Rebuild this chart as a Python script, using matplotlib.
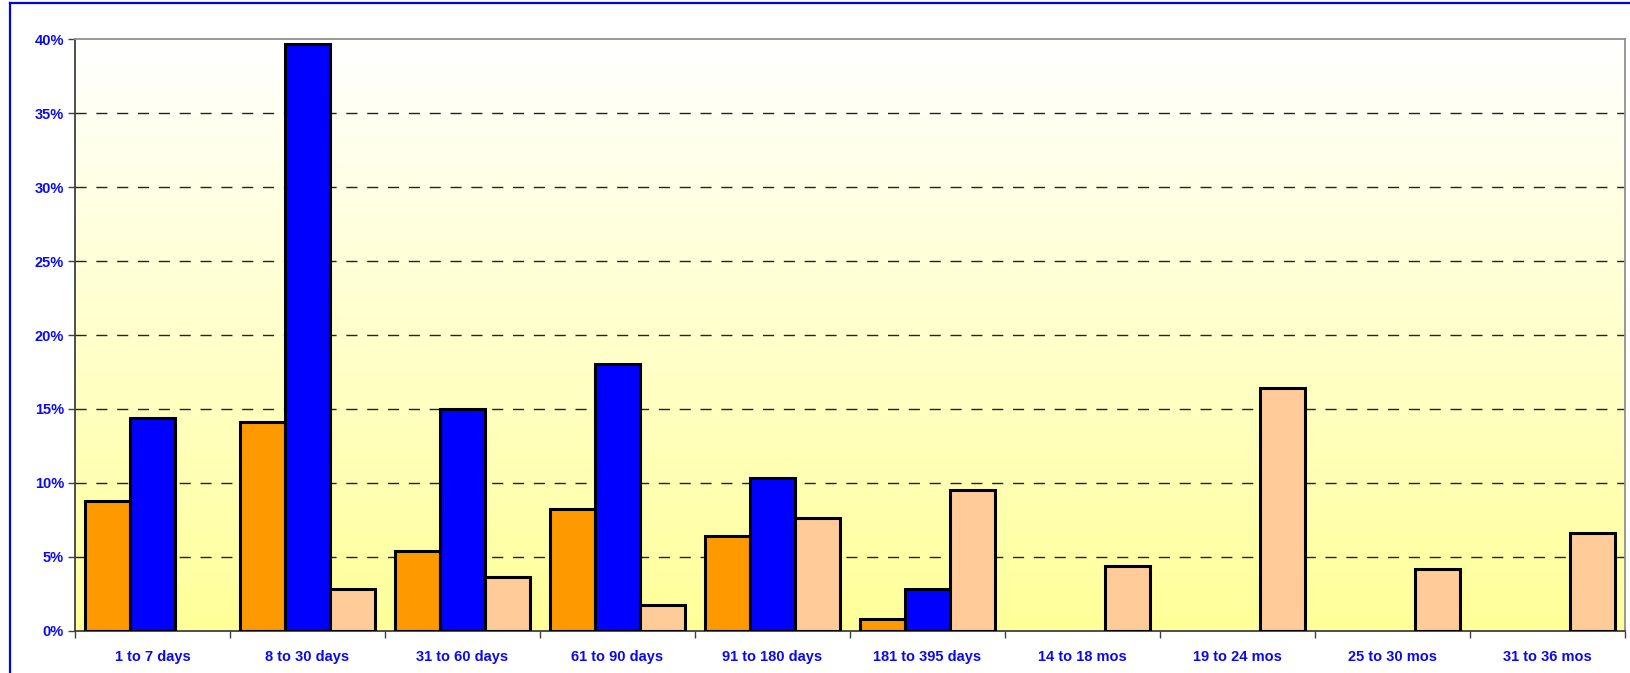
import numpy as np
import matplotlib.pyplot as plt
from matplotlib.lines import Line2D

categories = ['1 to 7 days', '8 to 30 days', '31 to 60 days', '61 to 90 days',
              '91 to 180 days', '181 to 395 days', '14 to 18 mos', '19 to 24 mos',
              '25 to 30 mos', '31 to 36 mos']
orange_vals = [8.8, 14.1, 5.4, 8.2, 6.4, 0.8, 0, 0, 0, 0]
blue_vals = [14.4, 39.7, 15.0, 18.05, 10.3, 2.8, 0, 0, 0, 0]
peach_vals = [0, 2.8, 3.6, 1.75, 7.65, 9.5, 4.4, 16.45, 4.2, 6.6]

plt.rcParams['font.family'] = ['Liberation Sans', 'DejaVu Sans']
txt_blue = '#0a0aee'

fig = plt.figure(figsize=(16.31, 6.73), dpi=100)
ax = fig.add_axes([75/1631, 1-630.7/673, 1550/1631, (630.7-39.4)/673])

# gradient background, white on top to pale yellow at the bottom
grad = np.linspace(0, 1, 256)[:, None]
top = np.array([1.0, 1.0, 1.0])
bot = np.array([1.0, 1.0, 0.6])
img = top[None, None, :] * (1 - grad[:, :, None]) + bot[None, None, :] * grad[:, :, None]
ax.imshow(img, extent=[0, 1, 0, 1], transform=ax.transAxes, aspect='auto', zorder=0)

n = len(categories)
x = np.arange(n)
w = 0.29
lw = 2.2


def draw(vals, offset, color):
    vals = np.array(vals, dtype=float)
    keep = vals > 0   # empty bars are not drawn at all
    ax.bar(x[keep] + offset, vals[keep], w, color=color, edgecolor='black',
           linewidth=lw, zorder=3)


draw(orange_vals, -w, '#ff9900')
draw(blue_vals, 0, '#0000ff')
draw(peach_vals, w, '#ffcc99')

ax.set_xlim(-0.5, n - 0.5)
ax.set_ylim(0, 40)

for yv in range(5, 40, 5):
    ax.axhline(yv, color='#222222', linewidth=1, dashes=(8, 7), zorder=1)

ax.set_yticks(range(0, 41, 5))
ax.set_yticklabels(['%d%%' % v for v in range(0, 41, 5)])
ax.set_xticks(np.arange(-0.5, n, 1))
ax.set_xticklabels([])
ax.set_xticks(x, minor=True)
ax.set_xticklabels(categories, minor=True)
ax.tick_params(axis='x', which='major', length=5, width=1, color='#404040', direction='out')
ax.tick_params(axis='x', which='minor', length=0, pad=14)
ax.tick_params(axis='y', length=5, width=1, color='#404040', pad=3)
for lab in ax.get_xticklabels(minor=True) + ax.get_yticklabels():
    lab.set_color(txt_blue)
    lab.set_fontweight('bold')
    lab.set_fontsize(10.5)

ax.spines['left'].set_color('#404040')
ax.spines['bottom'].set_color('#404040')
ax.spines['top'].set_color('#909090')
ax.spines['right'].set_color('#909090')
for s in ax.spines.values():
    s.set_linewidth(1.3)

# blue frame around the chart (left and top edges)
fig.add_artist(Line2D([10/1631, 10/1631], [0, 1-3/673], color='#0000ee', linewidth=1.6,
                      transform=fig.transFigure))
fig.add_artist(Line2D([10/1631, 1], [1-3/673, 1-3/673], color='#0000ee', linewidth=1.6,
                      transform=fig.transFigure))

fig.savefig('out.png', dpi=100)
